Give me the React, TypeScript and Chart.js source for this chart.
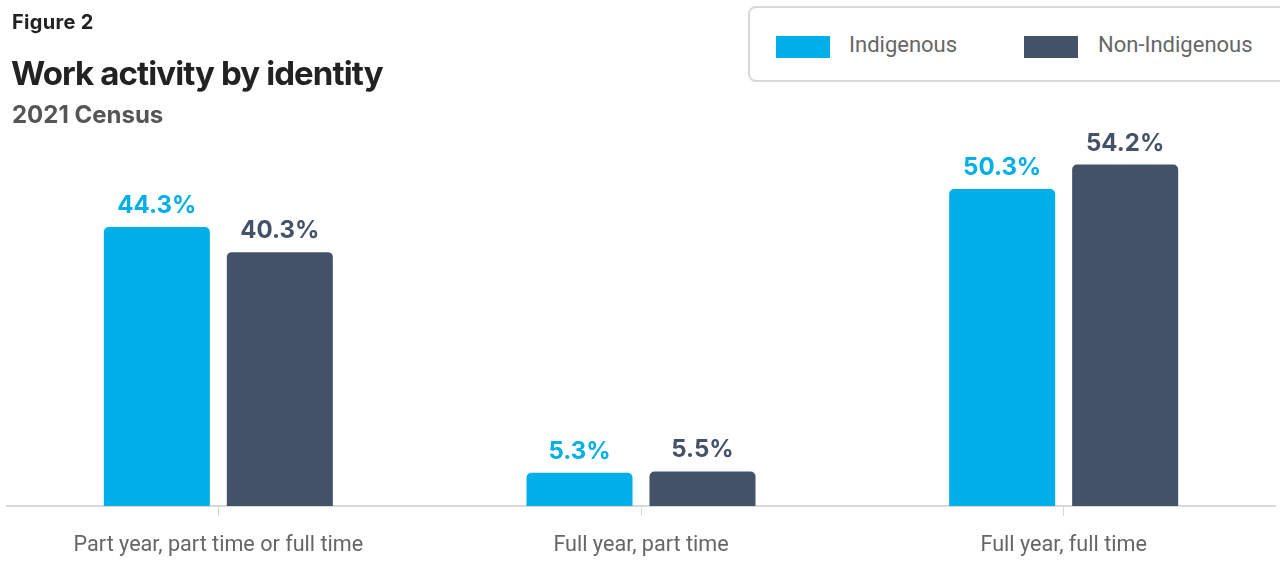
import React, { useEffect, useRef } from "react";
import { Chart, registerables } from "chart.js";

Chart.register(...registerables);

const categories = ["Part year, part time or full time", "Full year, part time", "Full year, full time"];
const indigenous = [44.3, 5.3, 50.3];
const nonIndigenous = [40.3, 5.5, 54.2];
const seriesNames = ["Indigenous", "Non-Indigenous"];
const seriesColors = ["#00AEE8", "#435268"];

const valueLabels = {
  id: "valueLabels",
  afterDatasetsDraw(chart: any) {
    const ctx = chart.ctx;
    ctx.save();
    chart.data.datasets.forEach((ds: any, i: number) => {
      const meta = chart.getDatasetMeta(i);
      meta.data.forEach((bar: any, j: number) => {
        ctx.fillStyle = ds.backgroundColor;
        ctx.font = "bold 24px Inter, 'Open Sans', sans-serif";
        ctx.textAlign = "center";
        ctx.textBaseline = "alphabetic";
        ctx.fillText(ds.data[j].toFixed(1) + "%", bar.x, bar.y - 14);
      });
    });
    ctx.restore();
  },
};

export default function App() {
  const ref = useRef<HTMLCanvasElement | null>(null);
  useEffect(() => {
    document.body.style.margin = "0";
    const chart = new Chart(ref.current as HTMLCanvasElement, {
      type: "bar",
      data: {
        labels: categories,
        datasets: [
          {
            label: seriesNames[0],
            data: indigenous,
            backgroundColor: seriesColors[0],
            borderRadius: 5,
            categoryPercentage: 0.582,
            barPercentage: 0.862,
          },
          {
            label: seriesNames[1],
            data: nonIndigenous,
            backgroundColor: seriesColors[1],
            borderRadius: 5,
            categoryPercentage: 0.582,
            barPercentage: 0.862,
          },
        ],
      },
      options: {
        animation: false,
        responsive: false,
        maintainAspectRatio: false,
        layout: { padding: { left: 7, right: 5, top: 128, bottom: 11 } },
        plugins: { legend: { display: false }, tooltip: { enabled: false } },
        scales: {
          y: { display: false, min: 0, max: 60 },
          x: {
            border: { display: true, color: "#D9D9D9", width: 2 },
            grid: { offset: false, drawOnChartArea: false, drawTicks: true, tickLength: 10, color: "#D9D9D9" },
            ticks: { color: "#666666", font: { family: "Roboto", size: 21.6 }, padding: 17 },
          },
        },
      },
      plugins: [valueLabels],
    });
    return () => chart.destroy();
  }, []);

  return (
    <div style={{ position: "relative", width: 1280, height: 587, overflow: "hidden", background: "#fff" }}>
      <canvas ref={ref} width={1280} height={587} style={{ position: "absolute", left: 0, top: 0 }} />
      <div style={{ position: "absolute", left: 12, top: 10, font: "bold 20px Inter, sans-serif", color: "#222", letterSpacing: 0.3 }}>Figure 2</div>
      <div style={{ position: "absolute", left: 11, top: 53, font: "bold 33px Inter, sans-serif", color: "#222", letterSpacing: -0.9 }}>Work activity by identity</div>
      <div style={{ position: "absolute", left: 12, top: 100, font: "bold 24px Inter, sans-serif", color: "#555" }}>2021 Census</div>
      <div style={{ position: "absolute", left: 748, top: 6, width: 540, height: 76, border: "2px solid #D9D9D9", borderRadius: 8, boxSizing: "border-box" as any, background: "#fff" }}>
        <div style={{ position: "absolute", left: 26, top: 28, width: 54, height: 22, background: seriesColors[0] }} />
        <div style={{ position: "absolute", left: 99, top: 24, font: "22px Roboto, sans-serif", color: "#666" }}>{seriesNames[0]}</div>
        <div style={{ position: "absolute", left: 274, top: 28, width: 54, height: 22, background: seriesColors[1] }} />
        <div style={{ position: "absolute", left: 348, top: 24, font: "22px Roboto, sans-serif", color: "#666" }}>{seriesNames[1]}</div>
      </div>
    </div>
  );
}
